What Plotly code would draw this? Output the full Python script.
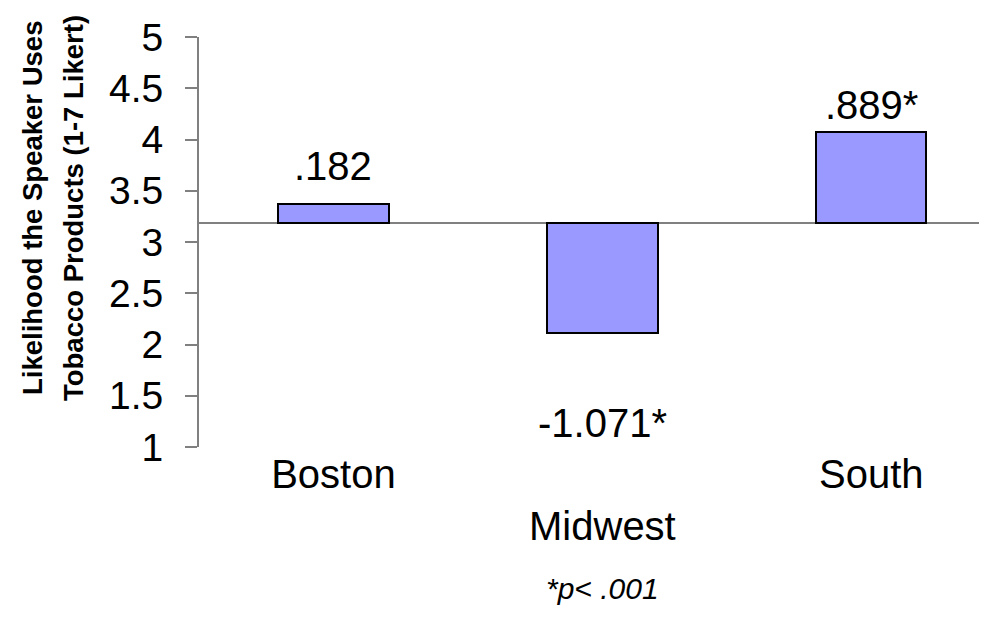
import plotly.graph_objects as go

# region means relative to the grand mean (1-7 Likert)
categories = ["Boston", "Midwest", "South"]
grand_mean = 3.185
effects = [0.182, -1.071, 0.889]
effect_labels = [".182", "-1.071*", ".889*"]
tick_vals = [1, 1.5, 2, 2.5, 3, 3.5, 4, 4.5, 5]
tick_text = ["1", "1.5", "2", "2.5", "3", "3.5", "4", "4.5", "5"]

FONT = "Liberation Sans, Arial, sans-serif"
label_shift = [38, -90, 27]  # px offset of value labels from the bar end

x_pos = list(range(len(categories)))
cat_text = [c if i != 1 else "<br>" + c for i, c in enumerate(categories)]  # Midwest staggered

fig = go.Figure()
fig.add_trace(go.Bar(
    x=x_pos, y=effects, base=grand_mean, width=0.41,
    marker=dict(color="#9999FF", line=dict(color="black", width=2)),
    hoverinfo="skip", showlegend=False,
))

# horizontal reference line at the grand mean
fig.add_shape(type="line", xref="paper", x0=0, x1=1, y0=grand_mean, y1=grand_mean,
              line=dict(color="#808080", width=2), layer="below")

for i, (e, lab) in enumerate(zip(effects, effect_labels)):
    fig.add_annotation(x=x_pos[i], y=grand_mean + e, text=lab, showarrow=False,
                       yshift=label_shift[i], font=dict(size=40, color="black"))

# y-axis title as two rotated lines
for txt, xs in [("Likelihood the Speaker Uses", 24), ("Tobacco Products (1-7 Likert)", 65)]:
    fig.add_annotation(xref="paper", yref="paper", x=0, y=(439 - 200) / 410, xanchor="center",
                       yanchor="middle", xshift=xs - 191, text="<b>%s</b>" % txt, textangle=-90,
                       showarrow=False, font=dict(size=27.5, color="black"))

fig.add_annotation(xref="x", yref="paper", x=1, y=0, yshift=-160, text="<i>*p< .001</i>",
                   showarrow=False, font=dict(size=30, color="black"))

fig.update_layout(
    width=987, height=626,
    margin=dict(l=191, r=0, t=29, b=187),
    paper_bgcolor="white", plot_bgcolor="white",
    font=dict(family=FONT, color="black"),
    bargap=0,
)
fig.update_xaxes(range=[-0.5, 2.46], tickvals=x_pos, ticktext=cat_text, showline=False,
                 showgrid=False, zeroline=False, ticks="", tickfont=dict(size=40))
fig.update_yaxes(range=[1, 5], tickvals=tick_vals, ticktext=tick_text, showgrid=False,
                 zeroline=False, showline=True, linecolor="#808080", linewidth=2,
                 ticks="outside", ticklen=12, tickwidth=2, tickcolor="#808080",
                 ticklabelstandoff=14, tickfont=dict(size=39))

fig.write_html("out.html")
